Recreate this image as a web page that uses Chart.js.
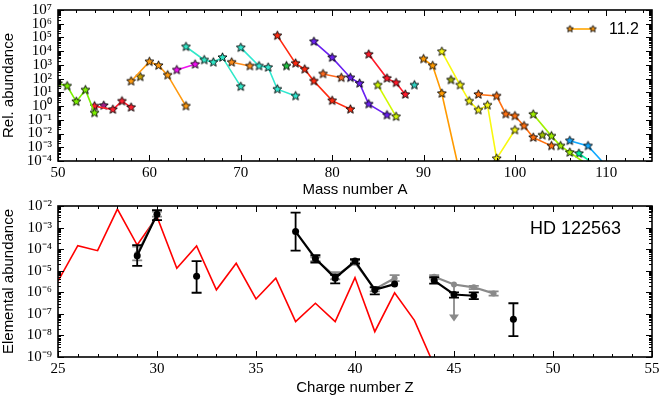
<!DOCTYPE html>
<html>
<head>
<meta charset="utf-8">
<script src="https://cdn.jsdelivr.net/npm/chart.js@4"></script>
<style>
  body { margin: 0; background: #fff; }
  canvas { position: absolute; left: 0; }
  #isoChart { top: 0; }
  #elemChart { top: 199px; }
</style>
</head>
<body>
<canvas id="isoChart" width="664" height="199"></canvas>
<canvas id="elemChart" width="664" height="200"></canvas>
<script>
// top panel: isotope chains (mass number A vs relative abundance)
const massNumbers = [
  [50, 51, 52, 53, 54],
  [54, 56, 57, 58],
  [55],
  [58, 60, 61, 62, 64],
  [59],
  [63, 65],
  [64, 66, 67, 68, 70],
  [69, 71],
  [70, 72, 73, 74, 76],
  [75],
  [74, 76, 77, 78, 80, 82],
  [79, 81],
  [78, 80, 82, 83, 84, 86],
  [84, 86, 87, 88],
  [85, 87],
  [89],
  [90, 91, 92, 94],
  [92, 94, 95, 96, 97, 98, 100],
  [93],
  [96, 98, 99, 100, 101, 102, 104],
  [103],
  [102, 104, 105, 106, 108],
  [107, 109],
  [106, 108, 110]
];
const relAbundance = [
  [45, 29, 2.1, 15, 0.32],
  [1.0, 0.56, 2.3, 0.8],
  [1.1],
  [65, 1700, 900, 180, 1.0],
  [135],
  [430, 1100],
  [2.1e4, 2300, 1550, 3500, 26],
  [1550, 830],
  [1.8e4, 830, 660, 17, 5.4],
  [830],
  [1.35e5, 1300, 480, 66, 2.5, 0.58],
  [220, 117],
  [5e4, 3400, 117, 45, 1.4, 0.22],
  [5900, 105, 50, 7],
  [34, 0.17],
  [34],
  [2700, 870, 8.3, 1e-5],
  [9300, 34, 2.3, 0.51, 1.17, 1.5e-4, 0.018],
  [80],
  [7, 5.4, 0.26, 0.19, 0.036, 0.0051, 0.00126],
  [0.0076],
  [0.25, 0.0065, 0.00126, 4.2e-4, 5e-5],
  [3.5e-4, 4.3e-5],
  [0.003, 0.00126, 4.3e-5]
];
const chainColors = [
  '#7cf000', '#ff2030', '#a0208a', '#ff9a10', '#c8a000', '#f010f0',
  '#30e8c8', '#ff8c1a', '#30e8d0', '#20c040', '#ff2a10', '#ff6a20',
  '#6a20f0', '#ff1a2a', '#d0f800', '#30d0c0', '#ff9a00', '#f8f810',
  '#a0b000', '#ff7010', '#a0c000', '#a0f000', '#00f0a0', '#10a8ff'
];
const legendLabel = '11.2';

// bottom panel: elemental abundances (charge number Z)
const modelZ = [25, 26, 27, 28, 29, 30, 31, 32, 33, 34, 35, 36, 37, 38, 39, 40, 41, 42, 43, 44];
const modelAbund = [3.3e-6, 1.45e-4, 8.5e-5, 7.2e-3, 1.55e-4, 3.2e-3, 1.3e-5, 1.4e-4, 1.3e-6, 2.2e-5,
  4.9e-7, 4.5e-6, 4.4e-8, 3.1e-7, 4.4e-8, 4.8e-6, 1.5e-8, 9.5e-7, 5e-8, 4e-10];

const obsZ = [29, 30, 32, 37, 38, 39, 40, 41, 42, 44, 45, 46, 48];
const obsAbund = [5e-5, 4.1e-3, 5.6e-6, 6.5e-4, 3.7e-5, 4.5e-6, 2.8e-5, 1.3e-6, 2.4e-6, 3.5e-6, 7.9e-7, 6.9e-7, 5.6e-8];
const obsHi = [1.55e-4, 6.5e-3, 2.8e-5, 4.9e-3, 5.2e-5, 6.5e-6, 3.4e-5, 1.7e-6, null, 5e-6, 1e-6, 1e-6, 3.1e-7];
const obsLo = [1.66e-5, 2.2e-3, 9.5e-7, 8.5e-5, 2.4e-5, 2.6e-6, 2.2e-5, 8e-7, null, 2.5e-6, 5.7e-7, 4.8e-7, 9.3e-9];

const grayZ = [29, 30, 38, 39, 40, 41, 42, 44, 45, 46, 47];
const grayAbund = [6e-5, 4.3e-3, 3.4e-5, 5.5e-6, 2.4e-5, 1.4e-6, 4.5e-6, 5.2e-6, 2.3e-6, 1.7e-6, 8.9e-7];
const grayHi = [1.3e-4, 5.5e-3, 4.2e-5, 8.5e-6, 3e-5, 1.8e-6, 6.2e-6, 6.3e-6, null, 2e-6, 1.1e-6];
const grayLo = [3e-5, 3.2e-3, 2.8e-5, 4e-6, 1.9e-5, 1.1e-6, 3.3e-6, 4.3e-6, null, 1.4e-6, 7e-7];
const limitZ = [45];
const limitTo = [4.4e-8];

const tickFont = { family: 'Liberation Serif', size: 15 };
const labelFont = { family: 'Liberation Sans', size: 15 };

const sup = { '-': '\u207b', '0': '\u2070', '1': '\u00b9', '2': '\u00b2', '3': '\u00b3', '4': '\u2074',
  '5': '\u2075', '6': '\u2076', '7': '\u2077', '8': '\u2078', '9': '\u2079' };

function starImage(color, r) {
  const c = document.createElement('canvas');
  const s = Math.ceil(r * 2 + 3);
  c.width = s; c.height = s;
  const g = c.getContext('2d');
  g.beginPath();
  for (let i = 0; i < 10; i++) {
    const rad = i % 2 === 0 ? r : r * 0.45;
    const a = -Math.PI / 2 + i * Math.PI / 5;
    g.lineTo(s / 2 + rad * Math.cos(a), s / 2 + rad * Math.sin(a));
  }
  g.closePath();
  g.fillStyle = color;
  g.fill();
  g.lineWidth = 0.9;
  g.strokeStyle = '#000';
  g.stroke();
  return c;
}

function logTicks(lo, hi) {
  const out = [];
  for (let e = lo; e < hi; e++) {
    for (let m = 1; m < 10; m++) out.push({ value: m * Math.pow(10, e) });
  }
  out.push({ value: Math.pow(10, hi) });
  return out;
}

function logLabel(v) {
  const e = Math.round(Math.log10(v));
  if (Math.abs(Math.log10(v) - e) > 1e-6) return '';
  return '10' + String(e).split('').map(ch => sup[ch]).join('');
}

function linTicks(lo, hi, step) {
  const out = [];
  for (let v = lo; v <= hi + 1e-9; v += step) out.push({ value: v });
  return out;
}

// keep the plot box where the layout padding puts it
function noEdgePad(s) {
  s.paddingTop = 0; s.paddingBottom = 0;
  s.paddingLeft = 0; s.paddingRight = 0;
}

// inward ticks on all four sides plus the frame
const frameTicks = {
  id: 'frameTicks',
  afterDraw(chart, args, opts) {
    const { ctx, chartArea: a, scales: { x, y } } = chart;
    ctx.save();
    ctx.strokeStyle = '#000';
    ctx.lineWidth = 1;
    ctx.beginPath();
    x.ticks.forEach(t => {
      const px = Math.round(x.getPixelForValue(t.value)) + 0.5;
      const len = Math.abs(t.value % opts.xMajor) < 1e-9 ? 6 : 3;
      ctx.moveTo(px, a.bottom); ctx.lineTo(px, a.bottom - len);
      ctx.moveTo(px, a.top); ctx.lineTo(px, a.top + len);
    });
    y.ticks.forEach(t => {
      const py = Math.round(y.getPixelForValue(t.value)) + 0.5;
      const len = logLabel(t.value) ? 6 : 3;
      ctx.moveTo(a.left, py); ctx.lineTo(a.left + len, py);
      ctx.moveTo(a.right, py); ctx.lineTo(a.right - len, py);
    });
    ctx.stroke();
    ctx.lineWidth = 1.6;
    ctx.strokeRect(a.left, a.top, a.right - a.left, a.bottom - a.top);
    ctx.restore();
  }
};

// top chart
const isoDatasets = massNumbers.map((arr, i) => ({
  data: arr.map((A, j) => ({ x: A, y: relAbundance[i][j] })),
  borderColor: chainColors[i],
  borderWidth: 1.6,
  pointStyle: starImage(chainColors[i], 4.7),
  pointRadius: 5,
  showLine: true,
  fill: false,
  tension: 0
}));

const isoLegend = {
  id: 'isoLegend',
  afterDraw(chart) {
    const ctx = chart.ctx;
    const y0 = 29;
    ctx.save();
    ctx.strokeStyle = '#ffa500';
    ctx.lineWidth = 1.6;
    ctx.beginPath();
    ctx.moveTo(570, y0); ctx.lineTo(593, y0);
    ctx.stroke();
    const img = starImage('#ff9a10', 3.6);
    ctx.drawImage(img, 570 - img.width / 2, y0 - img.height / 2);
    ctx.drawImage(img, 593 - img.width / 2, y0 - img.height / 2);
    ctx.fillStyle = '#000';
    ctx.font = '16px "Liberation Sans"';
    ctx.textBaseline = 'middle';
    ctx.fillText(legendLabel, 609, y0 + 1);
    ctx.restore();
  }
};

new Chart(document.getElementById('isoChart'), {
  type: 'scatter',
  data: { datasets: isoDatasets },
  options: {
    responsive: false,
    animation: false,
    layout: { padding: { top: 10, right: 12, left: 0, bottom: 0 } },
    plugins: { legend: { display: false }, tooltip: { enabled: false }, frameTicks: { xMajor: 10 } },
    scales: {
      x: {
        type: 'linear', min: 50, max: 115,
        afterBuildTicks: s => { s.ticks = linTicks(50, 114, 2); },
        afterFit: s => { s.height = 38; noEdgePad(s); },
        grid: { display: false, drawTicks: false },
        border: { display: false },
        ticks: { autoSkip: false, maxRotation: 0, padding: 3, color: '#000', font: tickFont,
          callback: v => (v % 10 === 0 ? String(v) : '') },
        title: { display: true, text: 'Mass number A', color: '#000', font: labelFont, padding: 0 }
      },
      y: {
        type: 'logarithmic', min: 1e-4, max: 1e7,
        afterBuildTicks: s => { s.ticks = logTicks(-4, 7); },
        afterFit: s => { s.width = 58; noEdgePad(s); },
        grid: { display: false, drawTicks: false },
        border: { display: false },
        ticks: { autoSkip: false, padding: 6, color: '#000', font: tickFont, callback: v => logLabel(v) },
        title: { display: true, text: 'Rel. abundance', color: '#000', font: labelFont, padding: 0 }
      }
    }
  },
  plugins: [frameTicks, isoLegend]
});

// bottom chart
function withGaps(zs, vals) {
  const out = [];
  zs.forEach((z, i) => {
    if (i > 0 && z - zs[i - 1] > 1) out.push({ x: z - 0.5, y: null });
    out.push({ x: z, y: vals[i] });
  });
  return out;
}

function drawErrors(chart, zs, vals, lo, hi, color) {
  const { ctx, chartArea: a, scales: { x, y } } = chart;
  ctx.save();
  ctx.beginPath();
  ctx.rect(a.left, a.top, a.right - a.left, a.bottom - a.top);
  ctx.clip();
  ctx.strokeStyle = color;
  ctx.lineWidth = 1.8;
  ctx.beginPath();
  zs.forEach((z, i) => {
    if (hi[i] == null) return;
    const px = x.getPixelForValue(z);
    const y1 = y.getPixelForValue(hi[i]);
    const y2 = y.getPixelForValue(lo[i]);
    ctx.moveTo(px, y1); ctx.lineTo(px, y2);
    ctx.moveTo(px - 5, y1); ctx.lineTo(px + 5, y1);
    ctx.moveTo(px - 5, y2); ctx.lineTo(px + 5, y2);
  });
  ctx.stroke();
  ctx.restore();
}

const elemErrors = {
  id: 'elemErrors',
  afterDatasetDraw(chart, args) {
    const { ctx, scales: { x, y } } = chart;
    if (args.index === 1) {
      drawErrors(chart, grayZ, grayAbund, grayLo, grayHi, '#8a8a8a');
      ctx.save();
      ctx.strokeStyle = '#8a8a8a';
      ctx.fillStyle = '#8a8a8a';
      ctx.lineWidth = 1.8;
      limitZ.forEach((z, i) => {
        const px = x.getPixelForValue(z);
        const y1 = y.getPixelForValue(grayAbund[grayZ.indexOf(z)]);
        const y2 = y.getPixelForValue(limitTo[i]);
        ctx.beginPath();
        ctx.moveTo(px, y1); ctx.lineTo(px, y2 - 6);
        ctx.stroke();
        ctx.beginPath();
        ctx.moveTo(px - 5, y2 - 7); ctx.lineTo(px + 5, y2 - 7); ctx.lineTo(px, y2);
        ctx.closePath();
        ctx.fill();
      });
      ctx.restore();
    }
    if (args.index === 2) drawErrors(chart, obsZ, obsAbund, obsLo, obsHi, '#000');
  }
};

const hdLabel = {
  id: 'hdLabel',
  afterDraw(chart) {
    const ctx = chart.ctx;
    ctx.save();
    ctx.fillStyle = '#000';
    ctx.font = '18px "Liberation Sans"';
    ctx.textBaseline = 'middle';
    ctx.fillText('HD 122563', 530, 30);
    ctx.restore();
  }
};

new Chart(document.getElementById('elemChart'), {
  type: 'scatter',
  data: {
    datasets: [
      { data: modelZ.map((z, i) => ({ x: z, y: modelAbund[i] })), showLine: true, borderColor: '#ff0000',
        borderWidth: 1.6, pointRadius: 0, order: 3 },
      { data: withGaps(grayZ, grayAbund), showLine: true, spanGaps: false, borderColor: '#8a8a8a',
        backgroundColor: '#8a8a8a', borderWidth: 2.2, pointRadius: 3, pointBorderWidth: 0, order: 2 },
      { data: withGaps(obsZ, obsAbund), showLine: true, spanGaps: false, borderColor: '#000',
        backgroundColor: '#000', borderWidth: 2.2, pointRadius: 3.5, pointBorderWidth: 0, order: 1 }
    ]
  },
  options: {
    responsive: false,
    animation: false,
    layout: { padding: { top: 7, right: 12, left: 0, bottom: 0 } },
    plugins: { legend: { display: false }, tooltip: { enabled: false }, frameTicks: { xMajor: 5 } },
    scales: {
      x: {
        type: 'linear', min: 25, max: 55,
        afterBuildTicks: s => { s.ticks = linTicks(25, 55, 1); },
        afterFit: s => { s.height = 42; noEdgePad(s); },
        grid: { display: false, drawTicks: false },
        border: { display: false },
        ticks: { autoSkip: false, maxRotation: 0, padding: 3, color: '#000', font: tickFont,
          callback: v => (v % 5 === 0 ? String(v) : '') },
        title: { display: true, text: 'Charge number Z', color: '#000', font: labelFont, padding: { top: 0, bottom: 2 } }
      },
      y: {
        type: 'logarithmic', min: 1e-9, max: 1e-2,
        afterBuildTicks: s => { s.ticks = logTicks(-9, -2); },
        afterFit: s => { s.width = 58; noEdgePad(s); },
        grid: { display: false, drawTicks: false },
        border: { display: false },
        ticks: { autoSkip: false, padding: 6, color: '#000', font: tickFont, callback: v => logLabel(v) },
        title: { display: true, text: 'Elemental abundance', color: '#000', font: labelFont, padding: 0 }
      }
    }
  },
  plugins: [frameTicks, elemErrors, hdLabel]
});
</script>
</body>
</html>
